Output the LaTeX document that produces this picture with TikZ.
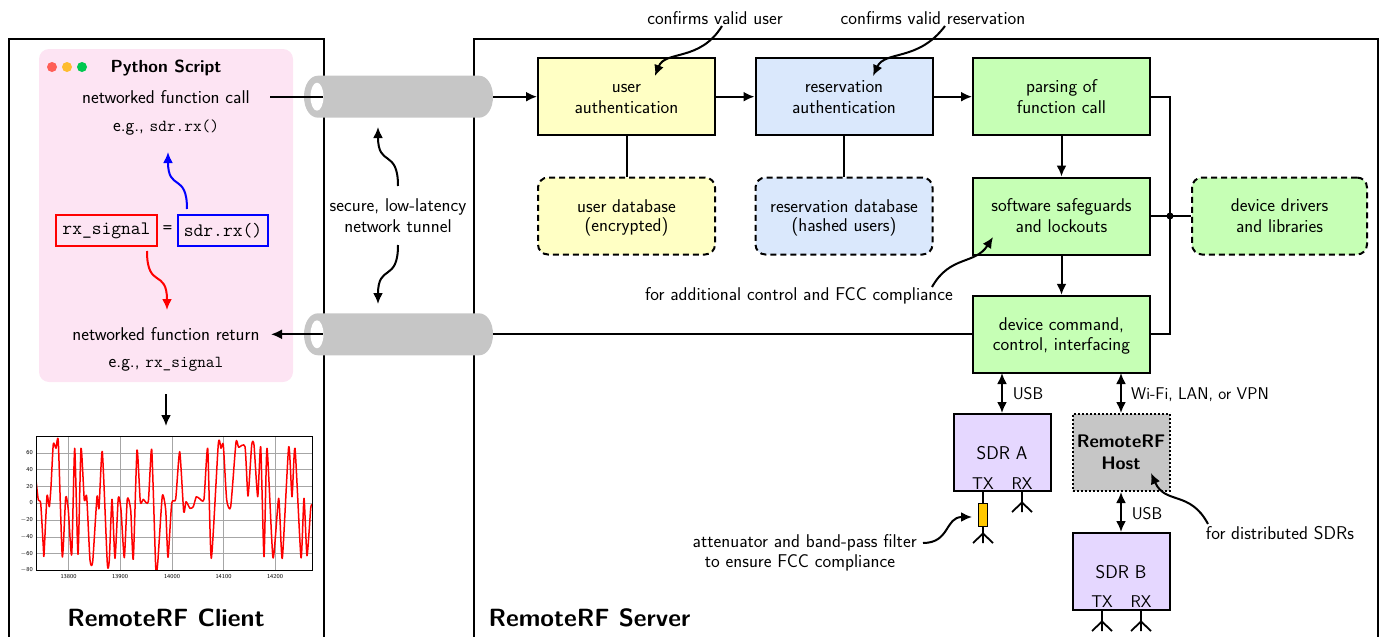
\documentclass[tikz,border=0pt]{standalone}
\usetikzlibrary{arrows.meta,calc}
\definecolor{pinkbg}{HTML}{FDE4F3}
\definecolor{yelbox}{HTML}{FFFFC4}
\definecolor{blubox}{HTML}{DAE8FC}
\definecolor{grnbox}{HTML}{C6FFB5}
\definecolor{purbox}{HTML}{E5D7FF}
\definecolor{grybox}{HTML}{C6C6C6}
\definecolor{filt}{HTML}{FFC800}
\newcommand{\cod}[1]{{\fontsize{16.8}{21}\selectfont\ttfamily #1}}
\newcommand{\topst}{\rule{0pt}{17.5pt}}
\newcommand{\botst}{\rule[-3.5pt]{0pt}{3.5pt}}
\newcommand{\mlst}{\rule{0pt}{16pt}}
\tikzset{
  lbl/.style={font=\fontsize{18.5}{21}\selectfont\sffamily,align=center,inner sep=0pt,
     execute at begin node=\topst,execute at end node=\botst},
  sml/.style={lbl,font=\fontsize{17}{21}\selectfont\sffamily},
  blk/.style={line width=2pt,draw=black,lbl,minimum width=177pt,minimum height=77pt},
  dbk/.style={blk,dashed,dash pattern=on 6pt off 4pt,rounded corners=10pt},
  sdr/.style={blk,fill=purbox,minimum width=97pt,minimum height=77pt},
  wire/.style={line width=2pt,draw=black},
  arr/.style={wire,-{Latex[length=11pt,width=10pt]}},
  darr/.style={wire,{Latex[length=11pt,width=10pt]}-{Latex[length=11pt,width=10pt]}},
  code/.style={line width=1.8pt,font=\fontsize{19}{20}\selectfont\ttfamily,inner sep=0pt,minimum height=31pt},
  ant/.style={line width=1.8pt,draw=black},
  dotk/.style={circle,inner sep=0pt,minimum size=10pt},
  bigt/.style={lbl,font=\fontsize{24.9}{30}\selectfont\sffamily\bfseries},
}
\newcommand{\antenna}[2]{%
  \draw[ant] (#1,#2) -- ++(0,-9.5) (#1-10,#2) -- (#1,#2-9.5) -- (#1+10,#2);}
\begin{document}
\begin{tikzpicture}[x=1pt,y=-1pt]
\useasboundingbox (0,0) rectangle (1379,637);
% frames
\draw[line width=2pt] (8.5,637) -- (8.5,38.5) -- (323.5,38.5) -- (323.5,637);
\draw[line width=2pt] (473.5,637) -- (473.5,38.5) -- (1378,38.5) -- (1378,637);
% script panel
\fill[pinkbg,rounded corners=10pt] (39,49) rectangle (293,382);
\node[dotk,fill={rgb,255:red,255;green,95;blue,87}] (d1) at (52,67) {};
\node[dotk,fill={rgb,255:red,254;green,188;blue,46}] (d2) at (67,67) {};
\node[dotk,fill={rgb,255:red,0;green,200;blue,80}] (d3) at (82,67) {};
\node[lbl,font=\fontsize{17.5}{21}\selectfont\sffamily\bfseries] (title) at (166,65.5) {Python Script};
\node[lbl] (call) at (166,96) {networked function call};
\node[lbl] (eg1) at (166,124.5) {e.g., \cod{sdr.rx()}};
\node[code,draw=red,minimum width=101pt] (rxs) at (106.5,230.5) {rx\_signal};
\node[code,draw=blue,minimum width=90pt] (sdrrx) at (223,230.5) {sdr.rx()};
\node[inner sep=0pt,font=\fontsize{19}{20}\selectfont\ttfamily] (eq) at (167.5,230) {=};
\node[lbl] (ret) at (166,333.5) {networked function return};
\node[lbl] (eg2) at (166,360.5) {e.g., \cod{rx\_signal}};
\coordinate (bs) at (187,209); \coordinate (be) at (168,152);
\coordinate (rs) at (147,251); \coordinate (re) at (167,310);
\draw[line width=2pt,blue,-{Latex[length=11pt,width=10pt]}] (bs) .. controls (187,172) and (168,192) .. (be);
\draw[line width=2pt,red,-{Latex[length=11pt,width=10pt]}] (rs) .. controls (147,290) and (167,268) .. (re);
\coordinate (ps) at (166,394); \coordinate (pe) at (166,426);
\draw[arr] (ps) -- (pe);
% tunnels
\foreach \yy/\nm in {96.7/a,334.3/b}{
  \fill[grybox] (318,\yy-21) -- (479,\yy-21) .. controls (487,\yy-21) and (493,\yy-12) .. (493,\yy)
     .. controls (493,\yy+12) and (487,\yy+21) .. (479,\yy+21) -- (318,\yy+21)
     .. controls (310,\yy+21) and (304,\yy+12) .. (304,\yy)
     .. controls (304,\yy-12) and (310,\yy-21) .. (318,\yy-21) -- cycle;
  \fill[white] (317,\yy) ellipse[x radius=6.5,y radius=14];
  \coordinate (tl\nm) at (323,\yy);
  \coordinate (tr\nm) at (493,\yy);
}
\node[lbl] (tun) at (398,216) {\mlst secure, low-latency\\network tunnel};
\coordinate (ua1) at (398,186); \coordinate (ua2) at (378,127);
\coordinate (da1) at (398,245); \coordinate (da2) at (378,304);
\draw[arr] (ua1) .. controls (398,148) and (378,168) .. (ua2);
\draw[arr] (da1) .. controls (398,283) and (378,263) .. (da2);
% server boxes
\node[blk,fill=yelbox] (ua) at (626.5,96.7) {\mlst user\\authentication};
\node[blk,fill=blubox] (ra) at (844,96.7) {\mlst reservation\\authentication};
\node[blk,fill=grnbox] (pf) at (1061.5,96.7) {\mlst parsing of\\function call};
\node[dbk,fill=yelbox] (ud) at (626.5,216) {\mlst user database\\[-2pt](encrypted)};
\node[dbk,fill=blubox] (rd) at (844,216) {\mlst reservation database\\[-2pt](hashed users)};
\node[blk,fill=grnbox] (sw) at (1061.5,216) {\mlst software safeguards\\and lockouts};
\node[dbk,fill=grnbox,minimum width=175pt] (dd) at (1279.5,216) {\mlst device drivers\\and libraries};
\node[blk,fill=grnbox] (dc) at (1061.5,334.3) {\mlst device command,\\[-1pt]control, interfacing};
\node[sdr] (sa) at (1002,452.5) {};
\node[sdr] (sb) at (1121,571.5) {};
\node[blk,draw=black,dotted,line width=2pt,fill=grybox,minimum width=97pt,font=\fontsize{18.2}{22}\selectfont\sffamily\bfseries] (rh) at (1121,452.5) {\mlst RemoteRF\\Host};
\node[lbl] (sal) at (1002,452.5) {SDR A};
\node[lbl] (sbl) at (1121,571.5) {SDR B};
\node[sml] (atx) at (983,482.5) {TX};
\node[sml] (arx) at (1022,482.5) {RX};
\node[sml] (btx) at (1102,600.5) {TX};
\node[sml] (brx) at (1141,600.5) {RX};
% wires
\draw[wire] (270,96.7) -- (tla);
\draw[arr] (tra) -- (ua.west);
\draw[arr] (ua) -- (ra);
\draw[arr] (ra) -- (pf);
\draw[wire] (ua) -- (ud);
\draw[wire] (ra) -- (rd);
\draw[arr] (pf) -- (sw);
\draw[arr] (sw) -- (dc);
\draw[wire] (pf.east) -- (1170,96.7) -- (1170,334.3) -- (dc.east);
\draw[wire] (sw) -- (dd);
\node[circle,fill=black,inner sep=0pt,minimum size=7pt] (jn) at (1170,216) {};
\draw[wire] (dc.west) -- (trb);
\coordinate (rr) at (271,334.3);
\draw[arr] (tlb) -- (rr);
\draw[darr] (1002,373) -- (sa.north);
\draw[darr] (1121,373) -- (rh.north);
\draw[darr] (rh) -- (sb);
\node[sml] (u1) at (1028,392) {USB};
\node[sml] (wf) at (1200,392) {Wi-Fi, LAN, or VPN};
\node[sml] (u2) at (1147,512) {USB};
% annotations
\node[lbl] (n1) at (715,17.5) {confirms valid user};
\node[lbl] (n2) at (933,17.5) {confirms valid reservation};
\node[lbl] (n3) at (799,293.5) {for additional control and FCC compliance};
\node[lbl] (n4) at (1280,532) {for distributed SDRs};
\node[lbl] (n5) at (804.7,551) {\mlst attenuator and band-pass filter\\[-1pt]to ensure FCC compliance\hspace*{9.5pt}};
\coordinate (c1) at (722,26); \coordinate (c1e) at (655,76);
\coordinate (c2) at (945,26); \coordinate (c2e) at (873,76);
\coordinate (c3) at (932,287); \coordinate (c3e) at (993,237);
\coordinate (c4) at (1208,524); \coordinate (c4e) at (1151,473);
\coordinate (c5) at (923,543); \coordinate (c5e) at (972,517);
\draw[arr] (c1) .. controls (700,62) and (665,50) .. (c1e);
\draw[arr] (c2) .. controls (918,62) and (885,50) .. (c2e);
\draw[arr] (c3) .. controls (950,255) and (975,265) .. (c3e);
\draw[arr] (c4) .. controls (1190,490) and (1165,505) .. (c4e);
\draw[arr] (c5) .. controls (950,543) and (945,517) .. (c5e);
% antennas and filter
\node[draw=black,line width=1.8pt,fill=filt,minimum width=9pt,minimum height=23pt,inner sep=0pt] (fl) at (983,515) {};
\draw[ant] (983,491) -- (fl.north);
\draw[ant] (fl.south) -- (983,533);
\antenna{983}{543}
\draw[ant] (1022,491) -- (1022,503);
\antenna{1022}{512}
\draw[ant] (1102,610) -- (1102,622);
\antenna{1102}{631}
\draw[ant] (1141,610) -- (1141,622);
\antenna{1141}{631}
% plot
\begin{scope}
\clip (36,436) rectangle (312,570);
\foreach \xx in {68.5,120,172,223.5,275}{\draw[gray!70,line width=1pt] (\xx,436) -- (\xx,570);}
\foreach \yy in {453,469.7,486.5,503,520,537,553.5}{\draw[gray!70,line width=1pt] (36,\yy) -- (312,\yy);}
\draw[red,line width=1.5pt,line join=round] plot[smooth,tension=0.35] coordinates {
(36,480)(38.3,500)(40.7,503.3)(43.3,546.7)(44,555)(47,496)(49.3,506.7)(51,486.7)(53.3,444)(56,448.3)(58.3,441.7)(62.3,556.7)
(65.7,497.3)(68.3,510)(71.7,555)(74.7,448.3)(78,554.3)(81,448.3)(84.3,500)(86.7,496.7)(90,560)(92.7,561.7)(97,496.7)(99,508.3)(102.3,451.7)
(107.3,563.3)(109.3,560)(112,499.3)(115,558.3)(118.3,497.7)(121,510)(124.3,557.7)(127.3,499)(130.7,510)(133.3,559.3)(137,450)(140.3,501.7)(143.3,499.3)(148.3,501.7)(151.7,449.3)
(155.7,566.7)(157.7,563.3)(162.3,496)(165.7,510)(168,557.3)(171.7,503.3)(175.7,499)(179.7,451.7)(183.7,511.7)(186,501.7)(190,508.3)(193.3,506.7)(196.3,496.7)(200,499)(204,499)
(207.7,448.3)(211.3,558.3)(218.3,444)(221,448.3)(223.3,445)(226.7,500)(230.7,506.7)(236,442.3)(238.7,447.3)(245,446.7)(248,496)(251.7,445)(254,445)(257.7,496.7)(260.7,446.7)
(264,556.7)(267,448.3)(273,557.7)(278.7,498.3)(282.3,558.3)(288.7,446.7)(292,496.7)(295,448.3)(301,557.7)(304,498.3)(307,555.7)(310.7,508.3)(312,505)};
\end{scope}
\node[draw=black,line width=1pt,minimum width=276pt,minimum height=134pt,inner sep=0pt] (ax) at (174,503) {};
\foreach \xx/\tt in {68.5/13800,120/13900,172/14000,223.5/14100,275/14200}{\node[font=\fontsize{6}{7}\selectfont\sffamily,inner sep=0pt] at (\xx,577) {\tt};}
\foreach \yy/\tt in {453/60,469.7/40,486.5/20,503/0,520/$-$20,537/$-$40,553.5/$-$60,570/$-$80}{\node[font=\fontsize{6}{7}\selectfont\sffamily,inner sep=0pt,anchor=east] at (33,\yy) {\tt};}
\node[bigt] (cl) at (166,619) {RemoteRF Client};
\node[bigt] (sv) at (589.5,619) {RemoteRF Server};
\end{tikzpicture}
\end{document}
